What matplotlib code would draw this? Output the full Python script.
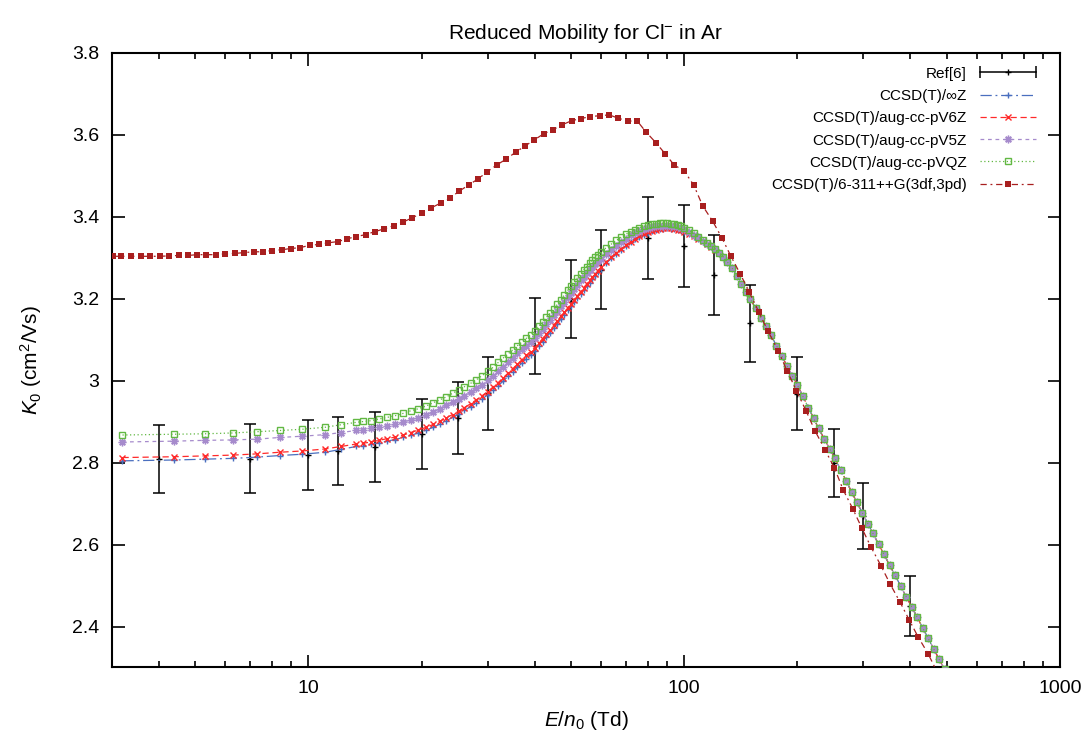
import matplotlib
matplotlib.use("Agg")
import matplotlib.pyplot as plt
from matplotlib.legend_handler import HandlerLine2D, HandlerTuple
from matplotlib.lines import Line2D
from matplotlib.ticker import FixedLocator, LogLocator, NullFormatter, StrMethodFormatter

plt.rcParams["font.family"] = ["Liberation Sans", "DejaVu Sans"]
plt.rcParams["mathtext.fontset"] = "custom"
plt.rcParams["mathtext.rm"] = "Liberation Sans"
plt.rcParams["mathtext.it"] = "Liberation Sans:italic"

# Ref[6] experimental points
ref_e = [4, 7, 10, 12, 15, 20, 25, 30, 40, 50, 60, 80, 100, 120, 150, 200, 250, 300, 400]
ref_k = [2.810, 2.810, 2.820, 2.829, 2.839, 2.871, 2.910, 2.970, 3.110, 3.200,
         3.271, 3.349, 3.329, 3.259, 3.141, 2.969, 2.800, 2.671, 2.451]
ref_err = [0.083, 0.084, 0.085, 0.084, 0.085, 0.085, 0.088, 0.089, 0.093, 0.095,
           0.096, 0.100, 0.100, 0.098, 0.094, 0.089, 0.083, 0.080, 0.073]

# E/n0 grid of the aug-cc / CBS curves (low field part, curves differ)
e_low = [3.2, 4.4, 5.3, 6.3, 7.3, 8.4, 9.6, 11.1, 12.2, 13.4,
         14.0, 14.7, 15.4, 16.2, 17.0, 17.9, 18.7, 19.6, 20.6, 21.5,
         22.4, 23.3, 24.2, 25.1, 26, 27, 28, 29, 30, 31,
         32, 33, 34, 35, 36, 37, 38, 39, 40, 41,
         42, 43, 44, 45, 46, 47, 48, 49, 50, 51,
         52, 53, 54, 55, 56, 57, 58, 59, 60, 62,
         64, 66, 68, 70, 72, 74, 76, 78, 80, 82,
         84, 86, 88, 90, 92, 94, 96, 98, 100, 103,
         106, 109, 112, 115, 118, 121]

k_cbs_low = [2.805, 2.807, 2.809, 2.811, 2.814, 2.818, 2.821, 2.826, 2.833, 2.840,
             2.842, 2.845, 2.849, 2.853, 2.857, 2.862, 2.867, 2.873, 2.880, 2.887,
             2.895, 2.903, 2.911, 2.919, 2.928, 2.937, 2.946, 2.956, 2.966, 2.977,
             2.988, 3.000, 3.011, 3.022, 3.033, 3.044, 3.054, 3.063, 3.073, 3.085,
             3.096, 3.107, 3.118, 3.129, 3.140, 3.151, 3.162, 3.172, 3.182, 3.192,
             3.202, 3.212, 3.222, 3.231, 3.240, 3.249, 3.257, 3.265, 3.273, 3.287,
             3.299, 3.310, 3.320, 3.329, 3.338, 3.345, 3.351, 3.356, 3.361, 3.365,
             3.368, 3.370, 3.371, 3.372, 3.371, 3.370, 3.368, 3.366, 3.363, 3.358,
             3.352, 3.346, 3.340, 3.333, 3.326, 3.319]

k_v6z_low = [2.813, 2.815, 2.817, 2.819, 2.822, 2.826, 2.829, 2.834, 2.840, 2.846,
             2.848, 2.851, 2.855, 2.859, 2.863, 2.868, 2.874, 2.880, 2.887, 2.894,
             2.902, 2.910, 2.918, 2.926, 2.935, 2.944, 2.954, 2.964, 2.974, 2.985,
             2.996, 3.008, 3.019, 3.030, 3.041, 3.052, 3.062, 3.071, 3.081, 3.092,
             3.103, 3.114, 3.125, 3.136, 3.147, 3.158, 3.168, 3.178, 3.188, 3.198,
             3.208, 3.218, 3.227, 3.236, 3.245, 3.253, 3.261, 3.269, 3.277, 3.290,
             3.302, 3.313, 3.323, 3.332, 3.340, 3.347, 3.353, 3.358, 3.363, 3.366,
             3.369, 3.371, 3.372, 3.373, 3.372, 3.371, 3.369, 3.367, 3.364, 3.359,
             3.353, 3.347, 3.341, 3.334, 3.327, 3.320]

k_v5z_low = [2.851, 2.853, 2.855, 2.856, 2.858, 2.862, 2.865, 2.869, 2.874, 2.879,
             2.881, 2.884, 2.887, 2.890, 2.894, 2.899, 2.905, 2.910, 2.917, 2.924,
             2.932, 2.940, 2.948, 2.956, 2.964, 2.973, 2.982, 2.991, 3.001, 3.012,
             3.023, 3.034, 3.045, 3.056, 3.067, 3.077, 3.086, 3.095, 3.105, 3.116,
             3.127, 3.138, 3.149, 3.160, 3.171, 3.182, 3.193, 3.204, 3.215, 3.225,
             3.235, 3.245, 3.254, 3.263, 3.271, 3.279, 3.286, 3.292, 3.298, 3.310,
             3.320, 3.330, 3.339, 3.347, 3.355, 3.361, 3.366, 3.370, 3.373, 3.376,
             3.378, 3.379, 3.379, 3.379, 3.378, 3.377, 3.375, 3.373, 3.370, 3.364,
             3.357, 3.350, 3.342, 3.335, 3.328, 3.321]

k_vqz_low = [2.868, 2.870, 2.871, 2.873, 2.876, 2.879, 2.882, 2.887, 2.893, 2.899,
             2.901, 2.903, 2.907, 2.911, 2.915, 2.921, 2.927, 2.932, 2.939, 2.947,
             2.954, 2.961, 2.970, 2.978, 2.986, 2.994, 3.003, 3.013, 3.023, 3.033,
             3.045, 3.056, 3.066, 3.076, 3.086, 3.095, 3.104, 3.113, 3.122, 3.133,
             3.144, 3.155, 3.165, 3.176, 3.187, 3.198, 3.210, 3.221, 3.232, 3.242,
             3.252, 3.262, 3.271, 3.279, 3.287, 3.295, 3.302, 3.308, 3.314, 3.325,
             3.334, 3.343, 3.351, 3.358, 3.364, 3.369, 3.374, 3.377, 3.380, 3.382,
             3.384, 3.385, 3.385, 3.385, 3.384, 3.383, 3.381, 3.378, 3.374, 3.368,
             3.360, 3.352, 3.344, 3.337, 3.330, 3.322]

# high field part, where the four curves lie on top of each other
e_high = [124, 127, 130, 134, 138, 142, 146, 150, 155, 160,
          165, 170, 176, 182, 188, 194, 200, 207, 214, 221,
          228, 236, 244, 252, 261, 270, 279, 288, 298, 308,
          318, 329, 340, 352, 364, 377, 390, 403, 417, 431,
          446, 461, 477, 493, 510]
k_high = [3.313, 3.303, 3.291, 3.276, 3.257, 3.236, 3.216, 3.199, 3.178, 3.154,
          3.133, 3.112, 3.086, 3.060, 3.036, 3.012, 2.991, 2.962, 2.935, 2.909,
          2.884, 2.858, 2.834, 2.811, 2.782, 2.756, 2.729, 2.704, 2.678, 2.652,
          2.628, 2.602, 2.577, 2.551, 2.526, 2.499, 2.473, 2.449, 2.423, 2.398,
          2.372, 2.347, 2.321, 2.296, 2.270]

# 6-311++G(3df,3pd) curve
e_pople = [3.01, 3.18, 3.38, 3.58, 3.78, 4.02, 4.25, 4.52, 4.77, 5.06,
           5.35, 5.67, 5.99, 6.37, 6.73, 7.15, 7.56, 7.98, 8.49, 8.97,
           9.48, 10.1, 10.7, 11.3, 12.0, 12.7, 13.4, 14.2, 15.0, 15.9,
           16.9, 17.9, 18.9, 20.1, 21.2, 22.5, 23.8, 25.2, 26.7, 28.3,
           29.9, 31.7, 33.6, 35.6, 37.7, 39.9, 42.3, 44.8, 47.4, 50.2,
           53.1, 56.3, 59.6, 63.2, 66.7, 70.9, 75.0, 79.2, 84.3, 89.0,
           94.0, 100, 106, 112, 119, 126, 133, 141, 149, 158,
           167, 178, 188, 199, 211, 223, 237, 251, 265, 281,
           297, 314, 334, 353, 375, 397, 419, 446, 471]
k_pople = [3.304, 3.304, 3.304, 3.304, 3.304, 3.304, 3.305, 3.306, 3.306, 3.308,
           3.308, 3.308, 3.310, 3.311, 3.313, 3.315, 3.315, 3.318, 3.320, 3.323,
           3.325, 3.331, 3.333, 3.337, 3.340, 3.347, 3.352, 3.357, 3.364, 3.371,
           3.379, 3.388, 3.398, 3.410, 3.422, 3.434, 3.446, 3.463, 3.478, 3.493,
           3.510, 3.527, 3.541, 3.558, 3.573, 3.588, 3.603, 3.613, 3.625, 3.635,
           3.640, 3.645, 3.647, 3.649, 3.641, 3.634, 3.634, 3.607, 3.580, 3.554,
           3.527, 3.512, 3.478, 3.427, 3.390, 3.349, 3.305, 3.261, 3.217, 3.168,
           3.122, 3.073, 3.024, 2.976, 2.927, 2.878, 2.832, 2.788, 2.734, 2.688,
           2.641, 2.595, 2.549, 2.505, 2.461, 2.417, 2.376, 2.334, 2.290]

fig = plt.figure(figsize=(10.86, 7.30), dpi=100)
ax = fig.add_axes([0.1031, 0.0863, 0.8729, 0.8411])

ax.errorbar(ref_e, ref_k, yerr=ref_err, fmt="+", color="black", ms=4,
            elinewidth=1.1, capsize=4, capthick=1.1, zorder=2)

e_calc = e_low + e_high
series = [
    ("CCSD(T)/\u221eZ", k_cbs_low, "#4a6fbf", (0, (9, 3, 1.5, 3)), "+", dict(ms=5)),
    ("CCSD(T)/aug-cc-pV6Z", k_v6z_low, "#ff2a2a", (0, (5, 3)), "x", dict(ms=4.5)),
    ("CCSD(T)/aug-cc-pV5Z", k_v5z_low, "#a68bcc", (0, (3, 3)), (8, 2, 0), dict(ms=5.5)),
    ("CCSD(T)/aug-cc-pVQZ", k_vqz_low, "#62b843", (0, (1, 2)), "s",
     dict(ms=4.8, mfc="none")),
]
handles = []
for label, k_low, color, dashes, marker, extra in series:
    line, = ax.plot(e_calc, k_low + k_high, color=color, lw=0.9, ls=dashes,
                    marker=marker, mew=1.0, label=label, zorder=3, **extra)
    handles.append(line)

pople, = ax.plot(e_pople, k_pople, color="#a81f1f", lw=0.9, ls=(0, (5, 3, 1.5, 3)),
                 marker="s", ms=5, mew=0, label="CCSD(T)/6-311++G(3df,3pd)", zorder=4)
handles.append(pople)

ax.set_xscale("log")
ax.set_xlim(3, 1000)
ax.set_ylim(2.302, 3.8)
ax.xaxis.set_major_locator(FixedLocator([10, 100, 1000]))
ax.xaxis.set_major_formatter(StrMethodFormatter("{x:g}"))
ax.xaxis.set_minor_locator(LogLocator(base=10, subs=range(2, 10)))
ax.xaxis.set_minor_formatter(NullFormatter())
ax.yaxis.set_major_locator(FixedLocator([2.4, 2.6, 2.8, 3.0, 3.2, 3.4, 3.6, 3.8]))
ax.yaxis.set_major_formatter(StrMethodFormatter("{x:g}"))

ax.tick_params(which="both", direction="in", top=True, right=True, width=1.2,
               labelsize=14)
ax.tick_params(which="major", length=9, pad=9)
ax.tick_params(which="minor", length=4.5)
for spine in ax.spines.values():
    spine.set_linewidth(1.5)

ax.set_title("Reduced Mobility for Cl$^{-}$ in Ar", fontsize=15, pad=10)
ax.set_xlabel(r"$E/n_\mathit{0}$ (Td)", fontsize=15, labelpad=9)
ax.set_ylabel(r"$K_\mathit{0}$ (cm$^2$/Vs)", fontsize=15, labelpad=20)

# gnuplot-like key entry for the error bars: horizontal bar with end caps
ref_line = Line2D([], [], color="black", lw=1.1, marker="+", ms=4)
ref_caps = Line2D([], [], color="black", lw=0, marker="|", ms=9, mew=1.1)
legend = ax.legend(
    [(ref_line, ref_caps)] + handles,
    ["Ref[6]"] + [h.get_label() for h in handles],
    loc="upper right", bbox_to_anchor=(0.996, 1.0098),
    frameon=False, markerfirst=False, fontsize=11,
    handlelength=3.7, handletextpad=0.85, labelspacing=0.54,
    borderaxespad=0.9,
    handler_map={
        tuple: HandlerTuple(ndivide=1, pad=0),
        ref_caps: HandlerLine2D(numpoints=2, marker_pad=0),
        ref_line: HandlerLine2D(numpoints=1),
    },
)
for text in legend.get_texts():
    text.set_ha("right")

fig.savefig("out.png", dpi=100)
